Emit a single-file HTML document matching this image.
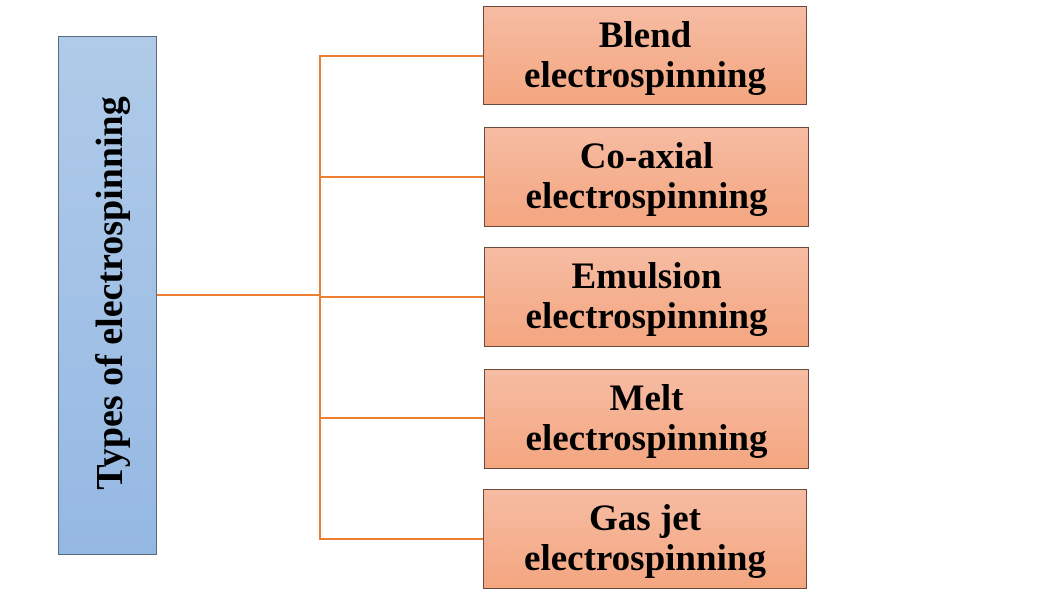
<!DOCTYPE html>
<html><head><style>
body{margin:0;width:1040px;height:600px;background:#fff;position:relative;overflow:hidden;font-family:"Liberation Serif",serif;}
.b{position:absolute;box-sizing:border-box;border:1px solid #6b4a3e;background:linear-gradient(#f6bca3,#f4a680);display:flex;align-items:center;justify-content:center;text-align:center;font-weight:bold;font-size:37px;line-height:40px;color:#000;}
.l{position:absolute;background:#ed7d31;}
#left{position:absolute;left:58px;top:36px;width:99px;height:519px;box-sizing:border-box;border:1px solid #5a6b7e;background:linear-gradient(#b0cbe9,#95b8e3);}
#lt{position:absolute;left:110px;top:293px;transform:translate(-50%,-50%) rotate(-90deg);white-space:nowrap;font-weight:bold;font-size:38px;}
</style></head><body>
<div id="left"></div><div id="lt">Types of electrospinning</div>
<div class="l" style="left:157px;top:294px;width:164px;height:2px"></div>
<div class="l" style="left:319px;top:55px;width:2px;height:485px"></div>
<div class="l" style="left:319px;top:55px;width:165px;height:2px"></div>
<div class="l" style="left:319px;top:176px;width:165px;height:2px"></div>
<div class="l" style="left:319px;top:296px;width:165px;height:2px"></div>
<div class="l" style="left:319px;top:417px;width:165px;height:2px"></div>
<div class="l" style="left:319px;top:538px;width:165px;height:2px"></div>
<div class="b" style="left:483px;top:6px;width:324px;height:99px">Blend<br>electrospinning</div>
<div class="b" style="left:484px;top:127px;width:325px;height:100px">Co-axial<br>electrospinning</div>
<div class="b" style="left:484px;top:247px;width:325px;height:100px">Emulsion<br>electrospinning</div>
<div class="b" style="left:484px;top:369px;width:325px;height:100px">Melt<br>electrospinning</div>
<div class="b" style="left:483px;top:489px;width:324px;height:100px">Gas jet<br>electrospinning</div>
</body></html>
